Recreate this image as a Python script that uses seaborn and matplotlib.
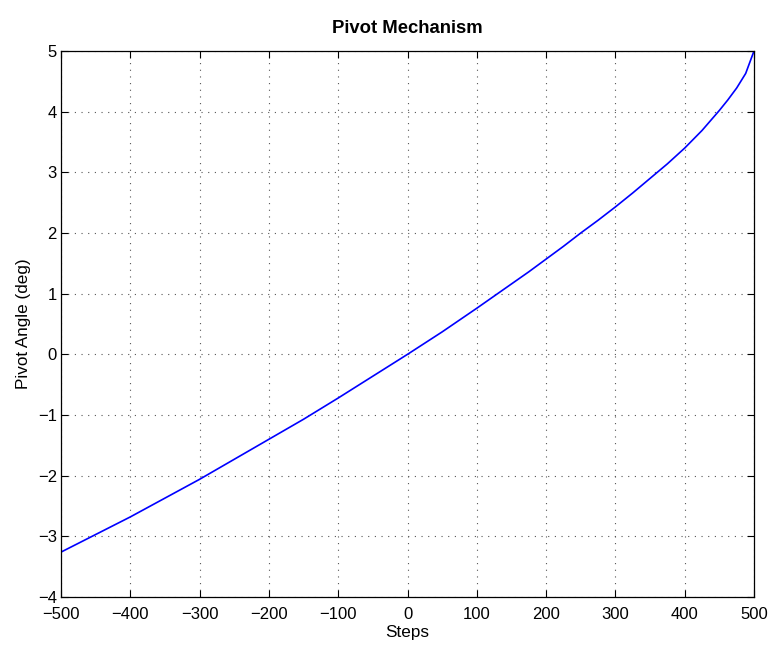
import matplotlib
matplotlib.use("Agg")
import matplotlib.pyplot as plt
import seaborn as sns
import pandas as pd

steps = [-500, -475, -450, -425, -400, -375, -350, -325, -300, -275, -250, -225,
         -200, -175, -150, -125, -100, -75, -50, -25, 0, 25, 50, 75, 100, 125,
         150, 175, 200, 225, 250, 275, 300, 325, 350, 375, 400, 425, 450, 462,
         475, 488, 500]
angle = [-3.26, -3.115, -2.97, -2.825, -2.68, -2.525, -2.37, -2.215, -2.06, -1.895,
         -1.73, -1.565, -1.40, -1.235, -1.07, -0.895, -0.72, -0.54, -0.36, -0.18,
         0.0, 0.185, 0.37, 0.565, 0.76, 0.96, 1.16, 1.36, 1.57, 1.78, 2.00, 2.21,
         2.43, 2.66, 2.90, 3.14, 3.40, 3.69, 4.02, 4.19, 4.39, 4.63, 5.00]
x_ticks = [-500, -400, -300, -200, -100, 0, 100, 200, 300, 400, 500]
y_ticks = [-4, -3, -2, -1, 0, 1, 2, 3, 4, 5]

sns.set_style("white")
plt.rcParams['font.family'] = ['Liberation Sans', 'DejaVu Sans']
plt.rcParams['text.color'] = 'black'
plt.rcParams['axes.labelcolor'] = 'black'

df = pd.DataFrame({"Steps": steps, "Angle": angle})

fig = plt.figure(figsize=(7.71, 6.46), dpi=100)
ax = fig.add_axes([61/771, 1 - 597/646, (754 - 61)/771, (597 - 51)/646])

sns.lineplot(data=df, x="Steps", y="Angle", ax=ax, color=(0, 0, 1), linewidth=1.2,
             estimator=None, sort=False)

ax.set_xlim(-500, 500)
ax.set_ylim(-4, 5)
ax.set_xticks(x_ticks)
ax.set_yticks(y_ticks)
ax.tick_params(direction='in', length=5, width=0.8, top=True, right=True,
               bottom=True, left=True, labelsize=12, colors='black', pad=3)
ax.tick_params(axis='x', pad=7)
for sp in ax.spines.values():
    sp.set_visible(True)
    sp.set_color('black')
    sp.set_linewidth(0.9)
ax.grid(True, linestyle=(0, (1, 5)), color='#555555', linewidth=0.8)
ax.set_axisbelow(True)

ax.set_title("Pivot Mechanism", fontsize=13.3, fontweight='bold', pad=13,
             color='black')
ax.set_xlabel("Steps", fontsize=12.3, labelpad=2)
ax.set_ylabel("Pivot Angle (deg)", fontsize=12.3, labelpad=5)

fig.savefig("out.png", dpi=100, facecolor='white')
